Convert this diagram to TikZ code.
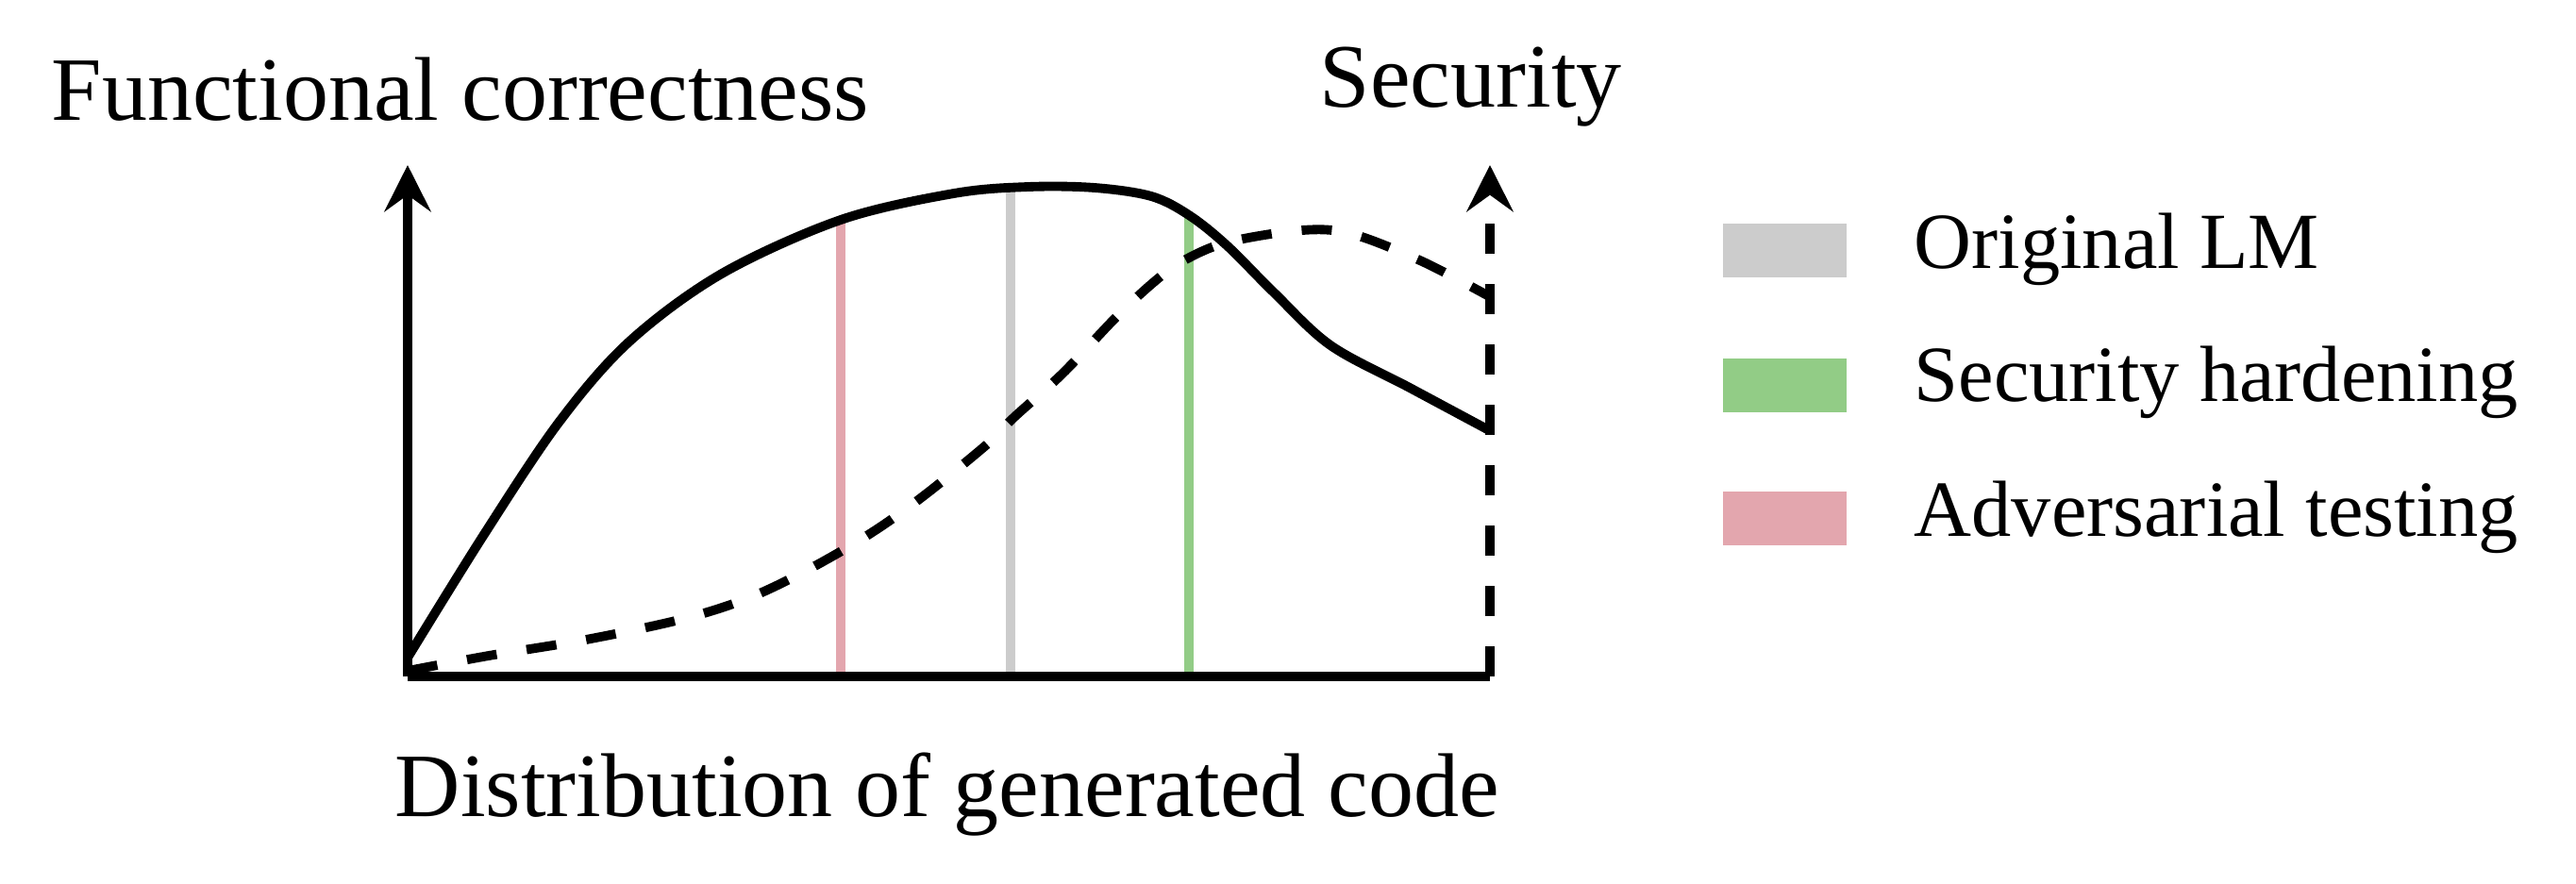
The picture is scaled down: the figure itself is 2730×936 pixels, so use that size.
\documentclass[tikz,border=0pt]{standalone}
\usepackage{fontspec}
\setmainfont{Liberation Serif}
\usetikzlibrary{arrows.meta}
\definecolor{cgray}{HTML}{CCCCCC}
\definecolor{cgreen}{HTML}{92CC86}
\definecolor{cpink}{HTML}{E3A6AE}
\newcommand\ttlfont{\fontsize{27.3}{32}\selectfont}
\newcommand\lgdfont{\fontsize{24}{28}\selectfont}
\tikzset{
  axisline/.style={line width=2.8pt, line cap=butt},
  curveline/.style={line width=2.8pt, line cap=butt, line join=round},
  dashline/.style={dash pattern=on 9.1pt off 9.1pt},
  uparrow/.style={-{Stealth[length=14pt, width=14pt, inset=5pt]}},
  marker/.style={line width=2.9pt, line cap=butt},
  ttl/.style={inner sep=0pt, anchor=base west, font=\ttlfont},
  lgd/.style={inner sep=0pt, anchor=base west, font=\lgdfont},
  swatch/.style={draw=none, minimum width=1.31cm, minimum height=0.57cm, inner sep=0pt, anchor=north west},
}
\begin{document}
\begin{tikzpicture}[x=0.01cm, y=-0.01cm]
\useasboundingbox (0,0) rectangle (2730,936);
% key points
\coordinate (O) at (432,717);
\coordinate (Ltop) at (432,175);
\coordinate (R) at (1579,717);
\coordinate (Rtop) at (1579,175);
\coordinate (pinkB) at (891,715);
\coordinate (pinkT) at (891,233);
\coordinate (grayB) at (1071,715);
\coordinate (grayT) at (1071,200);
\coordinate (greenB) at (1260,715);
\coordinate (greenT) at (1260,226);
% colored markers
\draw[marker, cpink] (pinkB) -- (pinkT);
\draw[marker, cgray] (grayB) -- (grayT);
\draw[marker, cgreen] (greenB) -- (greenT);
% curves
\draw[curveline] plot[smooth, tension=0.55] coordinates {
  (432,697) (512,568) (592,448) (667,362) (765,290) (891,233)
  (1011,205) (1090,198) (1160,199) (1220,208) (1260,228)
  (1300,260) (1350,310) (1410,366) (1494,411) (1578,456)};
\draw[curveline, dashline] plot[smooth, tension=0.55] coordinates {
  (432,711) (518,695) (621,678) (724,656) (793,634) (856,604) (920,567)
  (977,527) (1046,471) (1075,442) (1126,396) (1184,335) (1224,298)
  (1253,277) (1300,257) (1380,244) (1433,248) (1507,277) (1578,314)};
% axes
\draw[axisline, uparrow] (O) -- (Ltop);
\draw[axisline] (O) -- (R);
\draw[axisline, dashline, uparrow] (R) -- (Rtop);
% labels
\node[ttl] (fc) at (54,127) {Functional correctness};
\node[ttl] (sec) at (1398,113) {Security};
\node[ttl] (dist) at (418,865) {Distribution of generated code};
% legend
\node[swatch, fill=cgray] (sw1) at (1825,236) {};
\node[swatch, fill=cgreen] (sw2) at (1825,379) {};
\node[swatch, fill=cpink] (sw3) at (1825,520) {};
\node[lgd] (l1) at (2028,284) {Original LM};
\node[lgd] (l2) at (2028,425) {Security hardening};
\node[lgd] (l3) at (2028,568) {Adversarial testing};
\end{tikzpicture}
\end{document}
